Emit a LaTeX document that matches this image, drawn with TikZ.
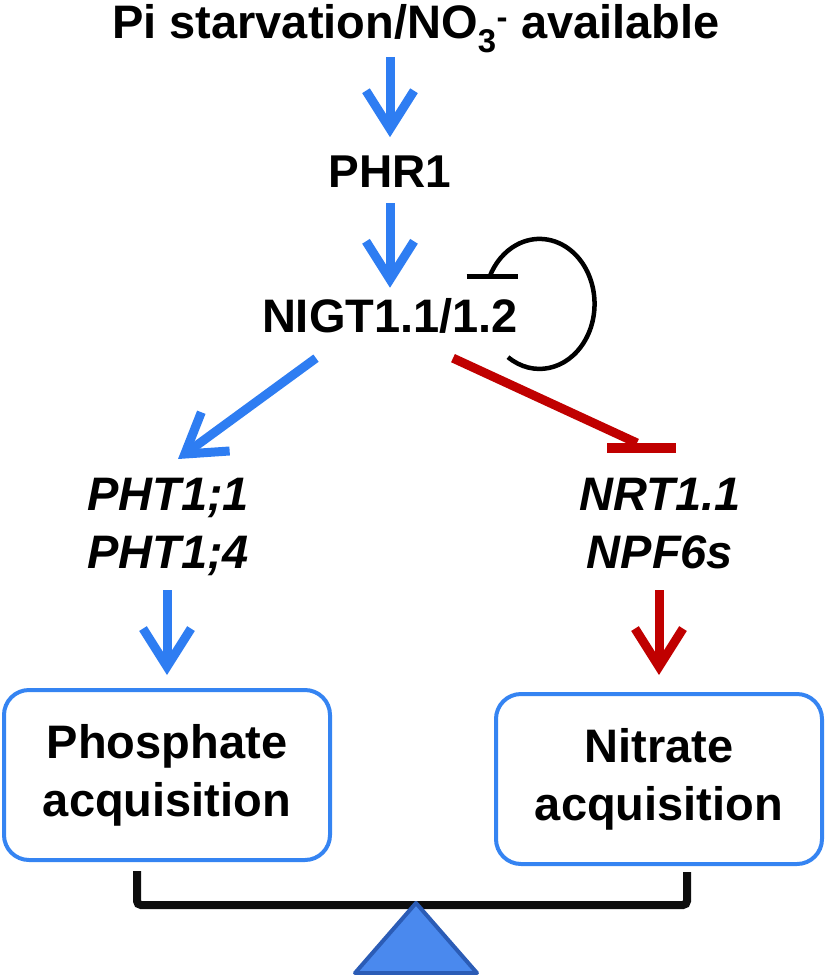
\documentclass[tikz,border=0pt]{standalone}
\usepackage{fontspec}
\setmainfont{Liberation Sans}
\usetikzlibrary{arrows.meta}

\definecolor{actblue}{HTML}{2E7DF2}
\definecolor{inhred}{HTML}{C00000}
\definecolor{boxblue}{HTML}{3584F2}
\definecolor{fulcfill}{HTML}{4A89EE}
\definecolor{fulcedge}{HTML}{2B5CB6}

\begin{document}
\begin{tikzpicture}[x=1pt,y=-1pt,
    lbl/.style={font=\fontsize{46}{58}\selectfont\bfseries, inner sep=0pt},
    gene/.style={font=\fontsize{47}{58}\selectfont\bfseries\itshape, inner sep=0pt, align=center},
    proc/.style={draw=boxblue, line width=4pt, rounded corners=25pt, minimum width=326pt,
        minimum height=170pt, inner sep=0pt, align=center, font=\fontsize{47}{58}\selectfont\bfseries},
    act/.style={actblue, line width=9pt, -{Straight Barb[length=38pt,width=48pt]}},
    inh/.style={inhred, line width=9pt},
    beam/.style={line width=8pt, rounded corners=4pt, color=black!95},
    fulcrum/.style={fill=fulcfill, draw=fulcedge, line width=4pt, line join=round}]
    \useasboundingbox (0,0) rectangle (829,975);

    \node[lbl, anchor=base, font=\fontsize{47}{58}\selectfont\bfseries] (title) at (416,38)
        {Pi starvation/NO\textsubscript{3}\textsuperscript{-} available};
    \node[lbl, anchor=base] (phr) at (390,187) {PHR1};
    \node[lbl, anchor=base, font=\fontsize{47}{58}\selectfont\bfseries] (nigt) at (390,332) {NIGT1.1/1.2};
    \node[gene, anchor=north] (pht) at (168,478) {PHT1;1\\PHT1;4};
    \node[gene, anchor=north] (nrt) at (660,478) {NRT1.1\\NPF6s};
    \node[proc] (phos) at (167,775) {Phosphate\\acquisition};
    \node[proc] (nit) at (659,779) {Nitrate\\acquisition};

    % activation chain
    \draw[act, shorten <=4pt, shorten >=18pt] (title.south -| phr.north) -- (phr.north);
    \draw[act, shorten <=16pt, shorten >=10pt] (phr.south) -- (nigt.north);
    \draw[act] ([xshift=-74pt,yshift=-25pt]nigt.south) -- ([xshift=10pt,yshift=19pt]pht.north);
    \draw[act, shorten <=14pt, shorten >=13pt] (pht.south -| phos.north) -- (phos.north);
    \draw[inh, -{Straight Barb[length=38pt,width=48pt]}, shorten <=21pt, shorten >=17pt]
        (nrt.south -| nit.north) -- (nit.north);

    % repression of NRT1.1 / NPF6s
    \draw[inh] ([xshift=63pt,yshift=-25pt]nigt.south) -- ([xshift=-23pt,yshift=35pt]nrt.north);
    \draw[inh, line width=10pt] ([xshift=-53pt,yshift=30pt]nrt.north) -- ([xshift=16pt,yshift=30pt]nrt.north);

    % self repression
    \draw[line width=4.5pt] ([xshift=118pt,yshift=-24pt]nigt.south)
        arc[start angle=125, end angle=-155, x radius=55, y radius=65] coordinate (selfend);
    \draw[line width=5pt] ([xshift=-23pt]selfend) -- ([xshift=28pt]selfend);

    % balance
    \draw[beam] ([xshift=-30pt,yshift=-9pt]phos.south) -- ++(0,34) -| ([xshift=28pt,yshift=-6pt]nit.south);
    \coordinate (apex) at (416,903);
    \draw[fulcrum] (apex) -- ++(-61,70) -- ++(122,0) -- cycle;
\end{tikzpicture}
\end{document}
